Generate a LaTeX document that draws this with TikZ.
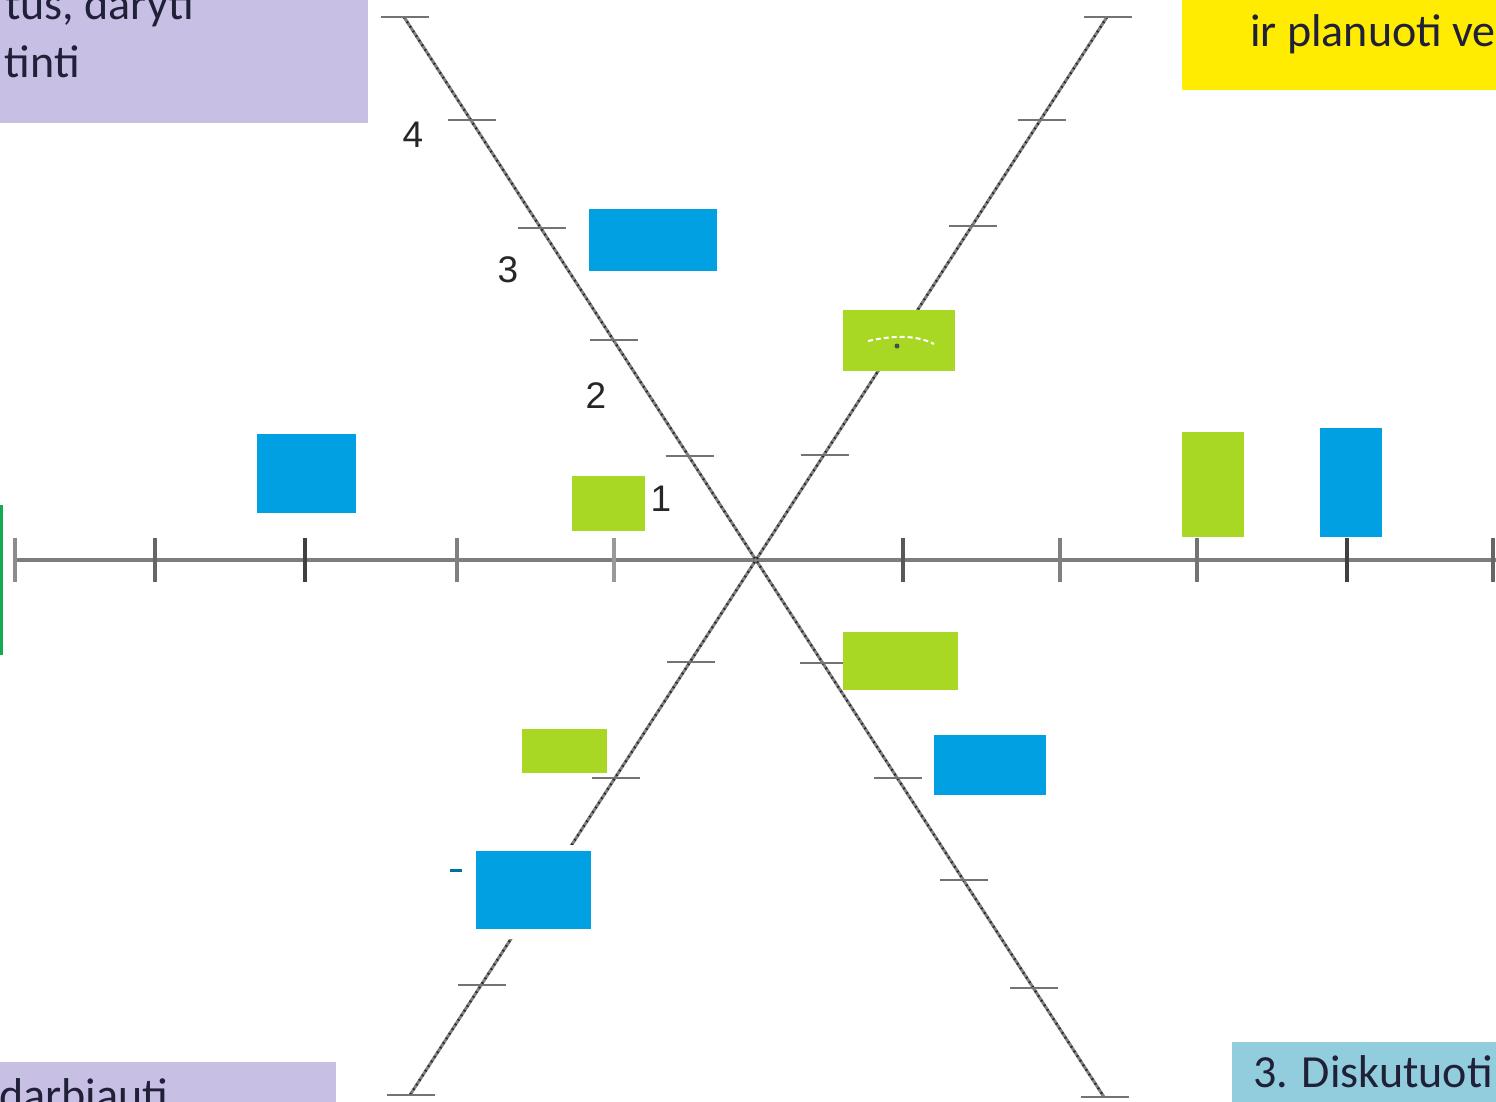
\documentclass[tikz,border=0pt]{standalone}
\usepackage{fontspec}
\setmainfont{Carlito}
\newfontfamily\digitfont{Liberation Sans}
\definecolor{boxpurple}{RGB}{200,191,229}
\definecolor{boxyellow}{RGB}{255,236,0}
\definecolor{boxcyan}{RGB}{146,205,221}
\definecolor{lime}{RGB}{168,216,36}
\definecolor{sky}{RGB}{0,160,227}
\definecolor{axisgray}{RGB}{125,125,125}
\definecolor{txtdark}{RGB}{32,32,56}
\definecolor{leftgreen}{RGB}{20,170,80}
\begin{document}
\begin{tikzpicture}[x=1pt,y=-1pt,
  panel/.style={fill=#1, draw=none, inner sep=0pt, anchor=north west},
  paneltext/.style={font=\fontsize{46}{54}\selectfont, text=txtdark, inner sep=0pt, anchor=base west},
  bar/.style={fill=#1, draw=none, inner sep=0pt},
  hax/.style={draw=axisgray, line width=4pt},
  htick/.style={draw=black!65, line width=3.5pt},
  dax/.style={draw=black!50, line width=3pt},
  ddots/.style={draw=black!85, line width=2.4pt, dash pattern=on 1.5pt off 4pt},
  dtick/.style={draw=black!55, line width=2.4pt},
  num/.style={font=\digitfont\fontsize{37}{40}\selectfont, text=black!85, inner sep=0pt}
]
\useasboundingbox (0,0) rectangle (1496,1102);
\clip (0,0) rectangle (1496,1102);
\fill[white] (0,0) rectangle (1496,1102);

% corner panels
\node[panel=boxpurple, minimum width=368pt, minimum height=123pt] (ptl) at (0,0) {};
\node[panel=boxyellow, minimum width=314pt, minimum height=90pt] (ptr) at (1182,0) {};
\node[panel=boxpurple, minimum width=336pt, minimum height=40pt] (pbl) at (0,1062) {};
\node[panel=boxcyan, minimum width=264pt, minimum height=60pt] (pbr) at (1232,1042) {};
\node[paneltext, anchor=base east] (ttl1) at (194,20) {tus, daryti};
\node[paneltext, anchor=base east] (ttl2) at (80,78) {tinti};
\node[paneltext] (ttr) at (1250,47) {ir planuoti ve};
\node[paneltext] (tbl) at (-1,1110) {darbiauti};
\node[paneltext] (tbr) at (1253,1087) {3. Diskutuoti};

% left green edge
\coordinate (g1) at (1.5,505);
\coordinate (g2) at (1.5,655);
\draw[leftgreen, line width=3pt] (g1) -- (g2);

% axes
\coordinate (C) at (757,560);
\coordinate (hl) at (15,560);
\coordinate (hr) at (1496,560);
\coordinate (a1) at (404,17);
\coordinate (a2) at (1104,1097);
\coordinate (b1) at (1107,17);
\coordinate (b2) at (410,1095);
\draw[hax] (hl) -- (hr);
\draw[dax] (a1) -- (a2);
\draw[ddots] (a1) -- (a2);
\draw[dax] (b1) -- (b2);
\draw[ddots] (b1) -- (b2);

% horizontal axis ticks
\foreach \x/\c in {15/45,155/60,305/75,457/50,614/40,903/65,1060/50,1197/55,1347/75,1493/60}
  \draw[htick, draw=black!\c] (\x,538) -- (\x,582);

% diagonal ticks (NW-SE)
\foreach \y in {17,120,228,340,456,663,778,880,988,1097}{
  \pgfmathsetmacro{\xx}{757+(\y-560)/1.543}
  \draw[dtick] (\xx-24,\y) -- (\xx+24,\y);
}
% diagonal ticks (NE-SW)
\foreach \y in {17,120,226,340,455,662,778,985,1095}{
  \pgfmathsetmacro{\xx}{757-(\y-560)/1.546}
  \draw[dtick] (\xx-24,\y) -- (\xx+24,\y);
}

% tick labels
\node[num] (n4) at (413,135) {4};
\node[num] (n3) at (508,270) {3};
\node[num] (n2) at (596,396) {2};
\node[num] (n1) at (661,499) {1};

% bars
\node[bar=sky, minimum width=128pt, minimum height=62pt] (s1) at (653,240) {};
\node[bar=lime, minimum width=112pt, minimum height=61pt] (l1) at (899,340.5) {};
\node[bar=sky, minimum width=99pt, minimum height=79pt] (s2) at (306.5,473.5) {};
\node[bar=lime, minimum width=73pt, minimum height=55pt] (l2) at (608.5,503.5) {};
\node[bar=lime, minimum width=62pt, minimum height=105pt] (l3) at (1213,484.5) {};
\node[bar=sky, minimum width=62pt, minimum height=109pt] (s3) at (1351,482.5) {};
\node[bar=lime, minimum width=115pt, minimum height=58pt] (l4) at (900.5,661) {};
\node[bar=sky, minimum width=112pt, minimum height=60pt] (s4) at (990,765) {};
\node[bar=lime, minimum width=85pt, minimum height=44pt] (l5) at (564.5,751) {};
\node[bar=white, minimum width=131pt, minimum height=94pt] (w5) at (533.5,892) {};
\node[bar=sky, minimum width=115pt, minimum height=78pt] (s5) at (533.5,890) {};

% faint tick showing through the green bar
\coordinate (wt1) at (868,341);
\coordinate (wt2) at (934,344);
\draw[white, line width=2pt, dash pattern=on 5pt off 3pt] (wt1) .. controls (890,336) and (915,334) .. (wt2);
\node[circle, fill=black!70, inner sep=0pt, minimum size=5pt] (wd) at (897,346) {};

% small blue dash
\coordinate (m1) at (450,870);
\coordinate (m2) at (462,870);
\draw[sky!70!black, line width=3pt] (m1) -- (m2);
\end{tikzpicture}
\end{document}
